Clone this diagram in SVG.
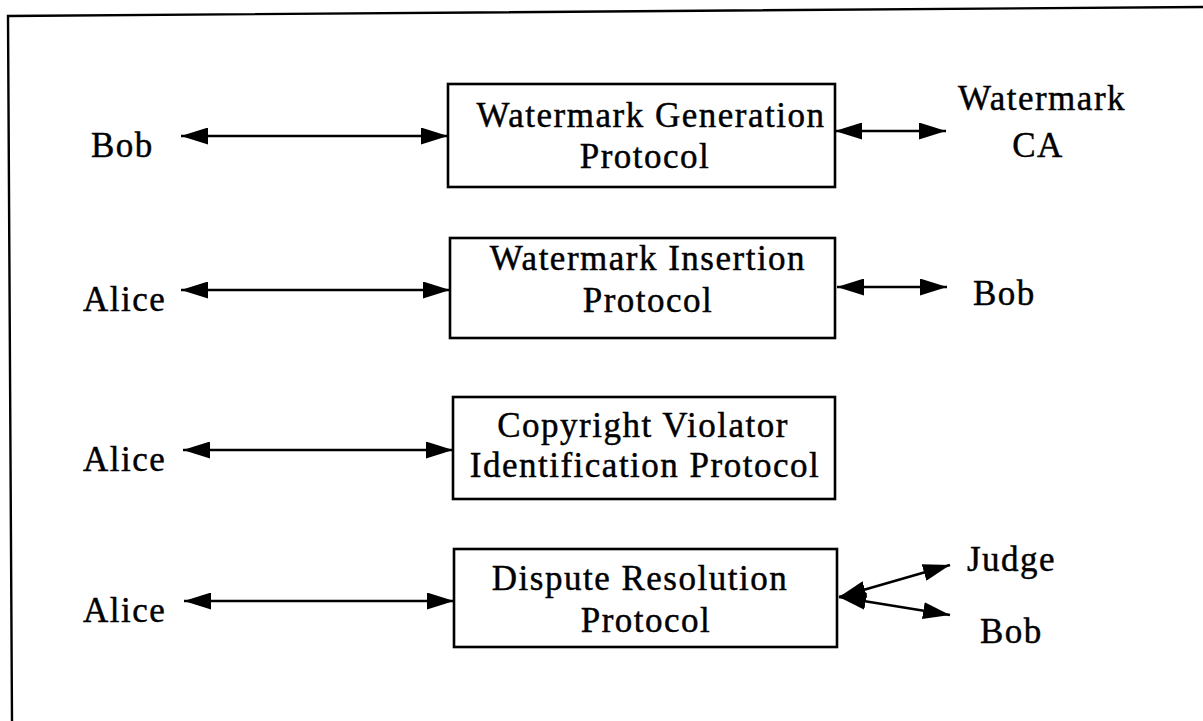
<svg xmlns="http://www.w3.org/2000/svg" width="1203" height="721" viewBox="0 0 1203 721">
  <style>
    .frame { fill: none; stroke: #000; stroke-width: 2.4; }
    .box { fill: #fff; stroke: #000; stroke-width: 2.6; }
    .link { fill: none; stroke: #000; stroke-width: 2.6; marker-start: url(#head); marker-end: url(#head); }
    text { font-family: "Liberation Serif", "Times New Roman", serif; font-size: 35px; fill: #000; stroke: #000; stroke-width: 0.45; letter-spacing: 1.5px; }
    .c { text-anchor: middle; }
  </style>
  <defs>
    <marker id="head" viewBox="0 0 27 17" refX="27" refY="8.5" markerWidth="27" markerHeight="17" markerUnits="userSpaceOnUse" orient="auto-start-reverse">
      <path d="M0,0 L27,8.5 L0,17 z" fill="#000"/>
    </marker>
  </defs>
  <rect width="1203" height="721" fill="#fff"/>

  <!-- outer frame: left and top edges only -->
  <polyline class="frame" points="12,721 8,16 1203,7"/>

  <g id="connectors">
    <line class="link" x1="181" y1="136" x2="448" y2="136"/>
    <line class="link" x1="835" y1="131" x2="946" y2="131"/>
    <line class="link" x1="181" y1="290" x2="450" y2="290"/>
    <line class="link" x1="837" y1="287" x2="947" y2="287"/>
    <line class="link" x1="183" y1="450" x2="453" y2="450"/>
    <line class="link" x1="184" y1="601" x2="454" y2="601"/>
    <line class="link" x1="839" y1="597" x2="950" y2="565"/>
    <line class="link" x1="839" y1="597" x2="950" y2="615"/>
  </g>

  <g id="wm-generation">
    <rect class="box" x="448" y="84" width="387" height="103"/>
    <text class="c" x="651" y="127">Watermark Generation</text>
    <text class="c" x="645" y="168">Protocol</text>
  </g>
  <g id="wm-insertion">
    <rect class="box" x="450" y="238" width="385" height="100"/>
    <text class="c" x="648" y="270">Watermark Insertion</text>
    <text class="c" x="648" y="312">Protocol</text>
  </g>
  <g id="violator-id">
    <rect class="box" x="453" y="397" width="382" height="102"/>
    <text class="c" x="643" y="437">Copyright Violator</text>
    <text class="c" x="645" y="477">Identification Protocol</text>
  </g>
  <g id="dispute">
    <rect class="box" x="454" y="549" width="383" height="98"/>
    <text class="c" x="640" y="590">Dispute Resolution</text>
    <text class="c" x="646" y="632">Protocol</text>
  </g>

  <g id="bob-1"><text x="91" y="157">Bob</text></g>
  <g id="watermark-ca">
    <text class="c" x="1042" y="110">Watermark</text>
    <text class="c" x="1038" y="157">CA</text>
  </g>
  <g id="alice-2"><text x="83" y="311">Alice</text></g>
  <g id="bob-2"><text x="973" y="305">Bob</text></g>
  <g id="alice-3"><text x="83" y="471">Alice</text></g>
  <g id="alice-4"><text x="83" y="622">Alice</text></g>
  <g id="judge"><text x="967" y="571">Judge</text></g>
  <g id="bob-4"><text x="980" y="643">Bob</text></g>
</svg>
